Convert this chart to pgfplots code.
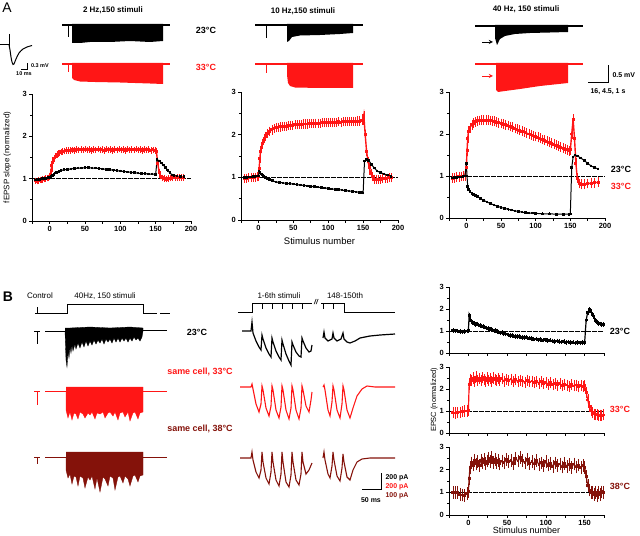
\documentclass[border=0pt]{standalone}
\usepackage{pgfplots}
\pgfplotsset{compat=1.18}
\usepackage{fontspec}
\setmainfont{Liberation Sans}
\definecolor{myred}{RGB}{255,22,22}
\definecolor{mydark}{RGB}{132,18,10}
\pgfplotsset{
  dat/.style={scale only axis, axis lines=left, axis line style={-,line width=0.8pt},
    tick align=outside, major tick length=2.6pt, minor tick length=1.6pt,
    tick style={line width=0.7pt, black},
    ymin=0, ymax=3, ytick={0,1,2,3}, minor ytick={0.5,1.5,2.5},
    xmin=-25, xmax=200, xtick={-25,0,25,...,200}, xticklabels={,0,,50,,100,,150,,200},
    tick label style={font=\fontsize{7.5}{8}\selectfont\bfseries},
    /pgf/number format/assume math mode=true, clip=false,
    xticklabel style={yshift=1pt}, yticklabel style={xshift=1pt}},
  datB/.style={dat, xmax=175, xtick={-25,0,25,...,175}, xticklabels={,0,,50,,100,,150,}},
  errb/.style={error bars/.cd, y dir=both, y fixed=#1, error bar style={line width=0.4pt}, error mark=-, error mark options={mark size=0.7pt, line width=0.4pt}},
  ser/.style={line width=1pt, mark=square*, mark size=0.8pt},
  refl/.style={black, line width=0.6pt, dash pattern=on 5pt off 1pt, no markers}
}
\begin{document}
\begin{tikzpicture}
\path[use as bounding box] (0,0) rectangle (640bp,536bp);

% ---------- A1 : 2 Hz ----------
\begin{axis}[dat, at={(32bp,315bp)}, anchor=south west, width=159bp, height=127bp,
  ylabel={fEPSP slope (normalized)}, ylabel style={font=\fontsize{8}{9}\selectfont, at={(axis description cs:-0.11,0.5)}}]
\addplot[refl] coordinates {(-25,1) (200,1)};
\addplot[myred, ser, line width=1.4pt, errb=0.06] coordinates {
(-20,0.95)(-18,0.94)(-16,0.96)(-14,0.97)(-12,0.97)(-10,0.98)(-8,0.99)(-6,1.00)(-4,1.01)(-2,1.02)(0,1.04)(1,1.10)(2,1.20)(3,1.30)(4,1.38)(5,1.44)(6,1.48)(8,1.53)(10,1.57)(12,1.59)(14,1.61)(16,1.63)(18,1.64)(20,1.65)(23,1.66)(26,1.67)(29,1.66)(32,1.68)(35,1.67)(38,1.69)(41,1.68)(44,1.69)(47,1.68)(50,1.70)(53,1.68)(56,1.69)(59,1.67)(62,1.69)(65,1.68)(68,1.70)(71,1.68)(74,1.69)(77,1.67)(80,1.70)(83,1.68)(86,1.69)(89,1.67)(92,1.69)(95,1.68)(98,1.70)(101,1.68)(104,1.69)(107,1.67)(110,1.70)(113,1.68)(116,1.69)(119,1.68)(122,1.70)(125,1.68)(128,1.69)(131,1.67)(134,1.69)(137,1.68)(140,1.69)(143,1.67)(146,1.68)(149,1.67)(151,1.65)(153,1.35)(155,1.15)(157,1.06)(159,1.02)(162,1.00)(165,0.99)(168,1.00)(171,1.01)(174,1.02)(177,1.02)(180,1.03)(183,1.03)(186,1.03)(189,1.03)};
\addplot[black, ser, errb=0.015] coordinates {
(-20,0.97)(-18,0.97)(-16,0.98)(-14,0.98)(-12,0.99)(-10,1.00)(-8,1.00)(-6,1.01)(-4,1.02)(-2,1.03)(0,1.04)(2,1.05)(4,1.07)(6,1.10)(8,1.13)(10,1.15)(13,1.17)(16,1.19)(20,1.21)(25,1.22)(30,1.23)(35,1.24)(40,1.25)(45,1.25)(50,1.26)(55,1.26)(60,1.25)(65,1.25)(70,1.24)(75,1.23)(80,1.22)(85,1.21)(90,1.20)(95,1.19)(100,1.18)(105,1.17)(110,1.16)(115,1.15)(120,1.14)(125,1.13)(130,1.12)(135,1.12)(140,1.11)(145,1.11)(150,1.10)(152,1.45)(155,1.42)(158,1.37)(161,1.32)(164,1.26)(167,1.20)(170,1.14)(173,1.09)(176,1.07)(180,1.06)(185,1.05)(190,1.05)};
\end{axis}

% ---------- A2 : 10 Hz ----------
\begin{axis}[dat, at={(241bp,316bp)}, anchor=south west, width=157bp, height=128bp,
  xlabel={Stimulus number}, xlabel style={font=\fontsize{9.5}{10}\selectfont, yshift=0pt}]
\addplot[refl] coordinates {(-25,1) (200,1)};
\addplot[myred, ser, line width=1.4pt, errb=0.09] coordinates {
(-20,0.97)(-17,0.98)(-14,0.99)(-11,1.00)(-8,1.00)(-5,1.00)(-2,1.01)(0,1.02)(1,1.20)(2,1.45)(3,1.60)(4,1.70)(6,1.80)(8,1.90)(10,1.96)(13,2.03)(16,2.08)(19,2.11)(22,2.14)(25,2.16)(28,2.17)(31,2.18)(34,2.19)(37,2.20)(40,2.20)(43,2.21)(46,2.22)(49,2.22)(52,2.23)(55,2.23)(58,2.24)(61,2.24)(64,2.25)(67,2.25)(70,2.25)(73,2.26)(76,2.26)(79,2.26)(82,2.27)(85,2.27)(88,2.27)(91,2.28)(94,2.28)(97,2.28)(100,2.28)(103,2.29)(106,2.28)(109,2.29)(112,2.29)(115,2.30)(118,2.29)(121,2.30)(124,2.30)(127,2.31)(130,2.30)(133,2.31)(136,2.31)(139,2.31)(142,2.32)(145,2.32)(148,2.33)(150,2.34)(151,2.45)(153,2.00)(155,1.60)(157,1.38)(159,1.22)(161,1.10)(163,1.02)(166,0.96)(169,0.95)(172,0.95)(175,0.96)(178,0.97)(181,0.97)(184,0.98)(187,0.99)(190,0.99)};
\addplot[black, ser, errb=0.015] coordinates {
(-20,1.00)(-17,1.00)(-14,1.01)(-11,1.01)(-8,1.02)(-5,1.02)(-2,1.03)(0,1.03)(1,1.15)(2,1.12)(4,1.08)(6,1.05)(8,1.02)(10,1.00)(13,0.97)(16,0.95)(20,0.92)(25,0.89)(30,0.88)(35,0.87)(40,0.86)(45,0.85)(50,0.84)(55,0.83)(60,0.82)(65,0.81)(70,0.80)(75,0.79)(80,0.78)(85,0.77)(90,0.76)(95,0.75)(100,0.74)(105,0.73)(110,0.72)(115,0.71)(120,0.70)(125,0.69)(130,0.68)(135,0.67)(140,0.66)(145,0.65)(148,0.64)(150,0.63)(152,1.38)(155,1.42)(158,1.40)(162,1.30)(166,1.22)(170,1.15)(175,1.11)(180,1.08)(185,1.05)(190,1.02)};
\end{axis}

% ---------- A3 : 40 Hz ----------
\begin{axis}[dat, at={(449bp,318bp)}, anchor=south west, width=156bp, height=126bp]
\addplot[refl] coordinates {(-25,1) (200,1)};
\addplot[myred, ser, line width=1.4pt, errb=0.1] coordinates {
(-20,0.95)(-17,0.96)(-14,0.97)(-11,0.98)(-8,0.99)(-5,1.00)(-2,1.00)(0,1.20)(1,1.60)(2,1.90)(3,2.05)(5,2.15)(8,2.22)(10,2.26)(13,2.29)(16,2.31)(19,2.32)(22,2.33)(25,2.33)(28,2.33)(31,2.33)(34,2.32)(37,2.31)(40,2.30)(43,2.28)(46,2.27)(50,2.25)(53,2.23)(56,2.22)(60,2.20)(63,2.18)(66,2.16)(70,2.13)(73,2.11)(76,2.09)(80,2.07)(83,2.05)(86,2.03)(90,2.00)(93,1.98)(96,1.96)(100,1.94)(103,1.92)(106,1.90)(110,1.87)(113,1.85)(116,1.83)(120,1.80)(123,1.78)(126,1.76)(130,1.73)(133,1.71)(136,1.69)(140,1.66)(143,1.64)(146,1.62)(148,1.60)(150,1.62)(152,2.00)(154,2.35)(156,1.90)(158,1.30)(160,0.95)(163,0.82)(166,0.80)(170,0.80)(175,0.82)(180,0.83)(185,0.84)(190,0.85)};
\addplot[black, ser, errb=0.015] coordinates {
(-20,0.95)(-17,0.96)(-14,0.97)(-11,0.98)(-8,0.98)(-5,0.99)(-2,1.00)(0,1.30)(1,1.00)(2,0.75)(3,0.68)(5,0.63)(8,0.59)(10,0.56)(13,0.54)(16,0.51)(20,0.47)(25,0.42)(30,0.38)(35,0.34)(40,0.31)(45,0.28)(50,0.25)(55,0.23)(60,0.21)(65,0.19)(70,0.17)(75,0.155)(80,0.14)(85,0.13)(90,0.12)(95,0.115)(100,0.11)(110,0.10)(120,0.10)(130,0.09)(140,0.09)(148,0.09)(150,0.10)(152,1.20)(154,1.45)(157,1.50)(160,1.48)(165,1.43)(170,1.37)(175,1.30)(180,1.24)(185,1.20)(190,1.17)};
\end{axis}

% ---------- B1 : 23 C ----------
\begin{axis}[datB, at={(449bp,183bp)}, anchor=south west, width=155bp, height=66bp, xticklabels={}]
\addplot[refl] coordinates {(-25,1) (175,1)};
\addplot[black, ser, line width=1.2pt, errb=0.07] coordinates {
(-20,1.02)(-17,1.01)(-14,1.00)(-11,0.97)(-8,0.96)(-5,0.98)(-2,1.00)(0,1.02)(1,1.70)(2,1.55)(3,1.45)(5,1.38)(7,1.35)(9,1.30)(11,1.33)(13,1.27)(15,1.25)(17,1.22)(19,1.20)(21,1.17)(23,1.14)(25,1.12)(27,1.10)(29,1.06)(31,1.05)(33,1.00)(35,1.02)(37,0.97)(39,0.95)(41,0.92)(43,0.94)(45,0.88)(48,0.86)(51,0.83)(54,0.80)(57,0.79)(60,0.76)(63,0.74)(66,0.75)(69,0.71)(72,0.70)(75,0.72)(78,0.67)(81,0.66)(84,0.63)(87,0.64)(90,0.60)(93,0.62)(96,0.58)(99,0.60)(102,0.56)(105,0.58)(108,0.55)(111,0.53)(114,0.55)(117,0.52)(120,0.50)(123,0.53)(126,0.48)(129,0.50)(132,0.47)(135,0.49)(138,0.45)(141,0.47)(144,0.46)(147,0.48)(150,0.47)(152,1.50)(154,1.85)(156,1.98)(158,1.90)(160,1.75)(162,1.62)(164,1.48)(166,1.40)(168,1.35)(170,1.32)(172,1.30)(174,1.30)};
\end{axis}

% ---------- B2 : 33 C ----------
\begin{axis}[datB, at={(449bp,103bp)}, anchor=south west, width=155bp, height=66bp, xticklabels={},
  ylabel={EPSC (normalized)}, ylabel style={font=\fontsize{7.5}{8}\selectfont, at={(axis description cs:-0.05,0.5)}}]
\addplot[refl] coordinates {(-25,1) (175,1)};
\addplot[myred, ser, line width=1.2pt, errb=0.22] coordinates {
(-20,0.92)(-17,0.91)(-14,0.93)(-11,0.95)(-8,0.97)(-5,1.00)(-2,1.00)(0,1.02)(1,2.20)(2,2.45)(4,2.38)(6,2.50)(8,2.35)(10,2.55)(12,2.40)(14,2.48)(16,2.38)(18,2.52)(20,2.42)(22,2.36)(24,2.50)(26,2.40)(28,2.47)(30,2.35)(32,2.50)(34,2.42)(36,2.38)(38,2.48)(40,2.40)(43,2.46)(46,2.36)(49,2.44)(52,2.38)(55,2.45)(58,2.35)(61,2.42)(64,2.33)(67,2.40)(70,2.36)(73,2.30)(76,2.40)(79,2.32)(82,2.36)(85,2.28)(88,2.35)(91,2.26)(94,2.33)(97,2.25)(100,2.30)(103,2.22)(106,2.28)(109,2.20)(112,2.25)(115,2.18)(118,2.24)(121,2.15)(124,2.22)(127,2.18)(130,2.12)(133,2.20)(136,2.14)(139,2.18)(142,2.10)(145,2.16)(148,2.12)(150,2.15)(152,1.85)(154,1.50)(156,1.20)(158,1.02)(160,0.92)(162,0.86)(164,0.83)(166,0.82)(168,0.80)(170,0.81)(172,0.80)(174,0.82)};
\end{axis}

% ---------- B3 : 38 C ----------
\begin{axis}[datB, at={(449bp,21bp)}, anchor=south west, width=155bp, height=68bp,
  xlabel={Stimulus number}, xlabel style={font=\fontsize{9}{10}\selectfont, yshift=5pt}]
\addplot[refl] coordinates {(-25,1) (175,1)};
\addplot[mydark, ser, line width=1.2pt, errb=0.25] coordinates {
(-20,1.00)(-17,0.98)(-14,1.00)(-11,0.92)(-8,0.88)(-5,0.86)(-2,0.95)(0,1.05)(1,1.60)(2,2.10)(4,2.30)(6,2.20)(8,2.40)(10,2.25)(12,2.35)(14,2.18)(16,2.42)(18,2.30)(20,2.45)(22,2.28)(24,2.38)(26,2.50)(28,2.35)(30,2.55)(32,2.32)(34,2.45)(36,2.30)(38,2.40)(40,2.25)(43,2.38)(46,2.30)(49,2.45)(52,2.35)(55,2.42)(58,2.28)(61,2.50)(64,2.38)(67,2.55)(70,2.40)(73,2.30)(76,2.45)(79,2.28)(82,2.35)(85,2.25)(88,2.40)(91,2.22)(94,2.30)(97,2.18)(100,2.35)(103,2.20)(106,2.28)(109,2.15)(112,2.30)(115,2.18)(118,2.25)(121,2.12)(124,2.28)(127,2.15)(130,2.22)(133,2.10)(136,2.25)(139,2.12)(142,2.20)(145,2.08)(148,2.18)(150,2.10)(152,1.70)(154,1.30)(156,1.10)(158,1.00)(160,0.98)(162,0.92)(164,1.00)(166,0.85)(168,1.00)(170,0.90)(172,1.02)(174,0.98)};
\end{axis}

% ---------- canvas with traces (pixel coordinates) ----------
\begin{axis}[at={(0bp,0bp)}, anchor=south west, scale only axis, width=640bp, height=536bp,
  xmin=0, xmax=640, ymin=0, ymax=536, y dir=reverse, hide axis, clip=false, no markers]
% panel letters and titles
\node[font=\fontsize{14}{14}\selectfont] at (7,8) {A};
\node[font=\fontsize{14}{14}\selectfont\bfseries] at (8,297) {B};
\node[font=\fontsize{8}{9}\selectfont\bfseries] at (113,10) {2 Hz,150 stimuli};
\node[font=\fontsize{8}{9}\selectfont\bfseries] at (303,11) {10 Hz,150 stimuli};
\node[font=\fontsize{8}{9}\selectfont\bfseries] at (526,9) {40 Hz, 150 stimuli};
\node[font=\fontsize{9}{10}\selectfont\bfseries] at (206,30) {23°C};
\node[font=\fontsize{9}{10}\selectfont\bfseries, text=myred] at (206,67) {33°C};
\node[font=\fontsize{9}{10}\selectfont\bfseries] at (621,169) {23°C};
\node[font=\fontsize{9}{10}\selectfont\bfseries, text=myred] at (621,186) {33°C};

% inset fEPSP waveform
\addplot[black, line width=0.9pt] coordinates {(0,44)(9,44)};
\addplot[black, line width=0.8pt] coordinates {(9,34)(9,48)};
\addplot[black, line width=1pt, smooth] coordinates {(9,45)(10,50)(11,57)(12,62)(13,64.5)(14,64)(16,59)(19,53)(23,49)(27,47)(32,45.5)};
\addplot[black, line width=0.8pt] coordinates {(21,69)(27,69)(27,63)};
\node[font=\fontsize{5.5}{6}\selectfont\bfseries, anchor=west] at (27.5,66) {0.3 mV};
\node[font=\fontsize{5.5}{6}\selectfont\bfseries] at (24,74) {10 ms};

% A1 traces
\addplot[black, line width=3pt] coordinates {(62,25)(170,25)};
\addplot[black, line width=0.8pt] coordinates {(68,25)(68,37)};
\addplot[fill=black, draw=none] coordinates {(72,24)(163,24)(163,41)(150,42)(130,41)(110,42)(90,42)(80,43)(72,43)};
\addplot[myred, line width=3pt] coordinates {(62,64)(170,64)};
\addplot[myred, line width=0.8pt] coordinates {(68,64)(68,72)};
\addplot[fill=myred, draw=none] coordinates {(72,63)(163,63)(163,84)(150,83.5)(120,82.5)(95,82)(80,81.5)(74,80)(72,78)};
% A2 traces
\addplot[black, line width=3pt] coordinates {(255,25)(363,25)};
\addplot[black, line width=0.8pt] coordinates {(266,25)(266,38)};
\addplot[fill=black, draw=none] coordinates {(287,24)(353,24)(353,33)(340,34)(320,35)(300,35.5)(292,37)(289,41)(287,42)};
\addplot[myred, line width=3pt] coordinates {(255,64)(363,64)};
\addplot[myred, line width=0.8pt] coordinates {(266,64)(266,73)};
\addplot[fill=myred, draw=none] coordinates {(287,63)(353,63)(353,88)(320,88)(295,87.5)(290,86)(288,83)(287,75)};
% A3 traces
\addplot[black, line width=3pt] coordinates {(475,26)(583,26)};
\addplot[fill=black, draw=none] coordinates {(495,25)(568,25)(568,32)(550,32.5)(530,33)(515,34)(505,36)(500,39)(497,45)(495,38)};
\addplot[black, line width=0.9pt, -stealth] coordinates {(482,42)(493,42)};
\addplot[myred, line width=3pt] coordinates {(475,64)(583,64)};
\addplot[fill=myred, draw=none] coordinates {(496,63)(568,63)(568,83)(540,86)(520,89)(505,91)(498,92)(496,90)};
\addplot[myred, line width=0.9pt, -stealth] coordinates {(482,76)(493,76)};
% A scale bar
\addplot[black, line width=0.9pt] coordinates {(588,82)(608,82)(608,65)};
\node[font=\fontsize{7}{8}\selectfont\bfseries, anchor=west] at (609,75) {0.5 mV};
\node[font=\fontsize{7}{8}\selectfont\bfseries] at (608,92) {16, 4.5, 1 s};

% ---------- Panel B traces ----------
\node[font=\fontsize{8}{9}\selectfont] at (40,296) {Control};
\node[font=\fontsize{8}{9}\selectfont] at (105,296) {40Hz, 150 stimuli};
\addplot[black, line width=0.8pt] coordinates {(35,313)(67,313)(67,304)(143,304)(143,313)(157,313)};
\addplot[black, line width=0.8pt] coordinates {(160,313)(170,313)};
\addplot[black, line width=0.8pt] coordinates {(37,307)(37,313)};
\node[font=\fontsize{9}{10}\selectfont\bfseries] at (197,332) {23°C};
\node[font=\fontsize{9}{10}\selectfont\bfseries, text=myred] at (200,372) {same cell, 33°C};
\node[font=\fontsize{9}{10}\selectfont\bfseries, text=mydark] at (200,429) {same cell, 38°C};
% black 23C
\addplot[black, line width=0.9pt] coordinates {(34,331)(40,331)};
\addplot[black, line width=0.9pt] coordinates {(37,331)(37,344)};
\addplot[black, line width=0.9pt] coordinates {(45,331)(66,331)};
\addplot[black, line width=0.9pt] coordinates {(143,330)(167,330)};
\addplot[fill=black, draw=black, line width=0.3pt] coordinates {(65,331)(66,360)(67,367)(68,352)(69,358)(70,347)(71,353)(72,345)(73,351)(75,344)(76,349)(78,343)(80,348)(82,342)(84,347)(86,341)(88,346)(90,341)(92,345)(94,340)(96,344)(98,340)(100,343)(102,339)(104,344)(106,339)(108,342)(110,339)(112,343)(114,338)(116,342)(118,338)(120,342)(122,338)(124,341)(126,338)(128,342)(130,338)(132,341)(134,337)(136,340)(138,338)(140,341)(142,337)(143,331)(143,328)(130,327)(110,328)(90,327)(70,328)(65,328)};
% red 33C
\addplot[myred, line width=0.9pt] coordinates {(34,391)(40,391)};
\addplot[myred, line width=0.9pt] coordinates {(37,391)(37,405)};
\addplot[myred, line width=0.9pt] coordinates {(45,391)(66,391)};
\addplot[myred, line width=0.9pt] coordinates {(143,391)(167,391)};
\addplot[fill=myred, draw=myred, line width=0.3pt] coordinates {(66,391)(66,410)(68,418)(70,412)(72,420)(74,413)(76,414)(78,419)(80,412)(83,414)(85,418)(88,413)(90,415)(92,412)(95,419)(97,413)(100,414)(103,412)(105,418)(108,413)(110,412)(113,416)(115,412)(118,420)(120,413)(123,412)(125,417)(128,412)(130,421)(133,413)(135,412)(138,419)(140,413)(143,412)(143,391)(143,387)(66,387)};
% dark red 38C
\addplot[mydark, line width=0.9pt] coordinates {(34,457)(40,457)};
\addplot[mydark, line width=0.9pt] coordinates {(37,457)(37,464)};
\addplot[mydark, line width=0.9pt] coordinates {(45,457)(66,457)};
\addplot[mydark, line width=0.9pt] coordinates {(143,457)(167,457)};
\addplot[fill=mydark, draw=mydark, line width=0.3pt] coordinates {(66,457)(66,470)(68,478)(70,474)(72,484)(74,476)(76,477)(78,486)(80,476)(83,478)(85,488)(88,477)(90,480)(92,476)(95,489)(97,478)(100,492)(103,477)(105,479)(108,486)(110,476)(113,478)(115,490)(118,477)(120,476)(123,483)(125,476)(128,479)(130,486)(133,476)(135,475)(138,482)(140,476)(143,475)(143,457)(143,452)(66,452)};

% middle protocol
\node[font=\fontsize{8}{9}\selectfont] at (279,296) {1-6th stimuli};
\node[font=\fontsize{8}{9}\selectfont] at (345,296) {148-150th};
\node[font=\fontsize{7}{8}\selectfont\bfseries\itshape] at (316,302) {//};
\addplot[black, line width=0.8pt] coordinates {(238,312)(252,312)(252,303)(312,303)};
\addplot[black, line width=0.8pt] coordinates {(262,303)(262,309)};
\addplot[black, line width=0.8pt] coordinates {(272,303)(272,309)};
\addplot[black, line width=0.8pt] coordinates {(282,303)(282,309)};
\addplot[black, line width=0.8pt] coordinates {(292,303)(292,309)};
\addplot[black, line width=0.8pt] coordinates {(302,303)(302,309)};
\addplot[black, line width=0.8pt] coordinates {(321,303)(344,303)(344,312)(395,312)};
\addplot[black, line width=0.8pt] coordinates {(333,303)(333,309)};
\addplot[black, line width=0.8pt] coordinates {(323,303)(323,309)};
% middle black
\addplot[black, line width=1.2pt] coordinates {(242,331)(251,331)(252,322)(253,333)(256,341)(259,347)(261,350)(262,335)(263,339)(266,348)(269,354)(271,357)(272,338)(273,342)(276,351)(279,357)(281,360)(282,340)(283,344)(286,354)(289,361)(291,365)(292,342)(293,345)(296,352)(299,356)(301,357)(302,338)(303,341)(306,348)(309,352)(311,351)(312,345)};
\addplot[black, line width=1.2pt] coordinates {(323,338)(324,332)(325,338)(328,341)(332,339)(333,333)(334,338)(337,341)(341,339)(343,333)(344,339)(347,342)(350,343)(355,341)(360,338)(370,336)(380,335)(395,334)};
% middle red
\addplot[myred, line width=1.1pt] coordinates {(240,387)(251,387)(252,384)(253,389)(256,404)(259,412)(261,404)(262,386)(263,390)(266,408)(269,416)(271,406)(272,386)(273,390)(276,410)(279,418)(281,407)(282,386)(283,390)(286,410)(289,419)(291,408)(292,386)(293,390)(296,410)(299,419)(301,408)(302,386)(303,390)(306,406)(309,412)(311,400)(312,392)};
\addplot[myred, line width=1.1pt] coordinates {(323,387)(324,385)(325,390)(328,410)(330,416)(332,402)(333,386)(334,390)(337,410)(340,418)(342,404)(343,386)(344,390)(347,410)(350,418)(353,408)(357,396)(362,389)(367,386)(375,387)(395,387)};
% middle dark
\addplot[mydark, line width=1.1pt] coordinates {(240,458)(251,458)(252,452)(253,460)(256,472)(259,478)(261,470)(262,452)(263,462)(266,478)(269,484)(271,472)(272,452)(273,462)(276,480)(279,486)(281,474)(282,452)(283,462)(286,482)(289,487)(291,475)(292,452)(293,462)(296,480)(299,485)(301,474)(302,452)(303,462)(306,474)(309,470)(312,463)};
\addplot[mydark, line width=1.1pt] coordinates {(323,458)(324,452)(325,460)(328,474)(330,478)(332,466)(333,452)(334,460)(337,476)(340,481)(342,468)(343,454)(344,462)(347,477)(350,480)(353,470)(357,462)(362,459)(370,458)(380,458)(395,458)};
% B scale bar
\addplot[black, line width=0.9pt] coordinates {(362,489)(381,489)(381,473)};
\node[font=\fontsize{7}{8}\selectfont\bfseries, anchor=west] at (382,478) {200 pA};
\node[font=\fontsize{7}{8}\selectfont\bfseries, anchor=west, text=myred] at (382,487) {200 pA};
\node[font=\fontsize{7}{8}\selectfont\bfseries, anchor=west, text=mydark] at (382,496) {100 pA};
\node[font=\fontsize{7}{8}\selectfont\bfseries] at (371,500) {50 ms};
% B right labels
\node[font=\fontsize{9}{10}\selectfont\bfseries] at (620,331) {23°C};
\node[font=\fontsize{9}{10}\selectfont\bfseries, text=myred] at (620,409) {33°C};
\node[font=\fontsize{9}{10}\selectfont\bfseries, text=mydark] at (620,486) {38°C};
\end{axis}
\end{tikzpicture}
\end{document}
